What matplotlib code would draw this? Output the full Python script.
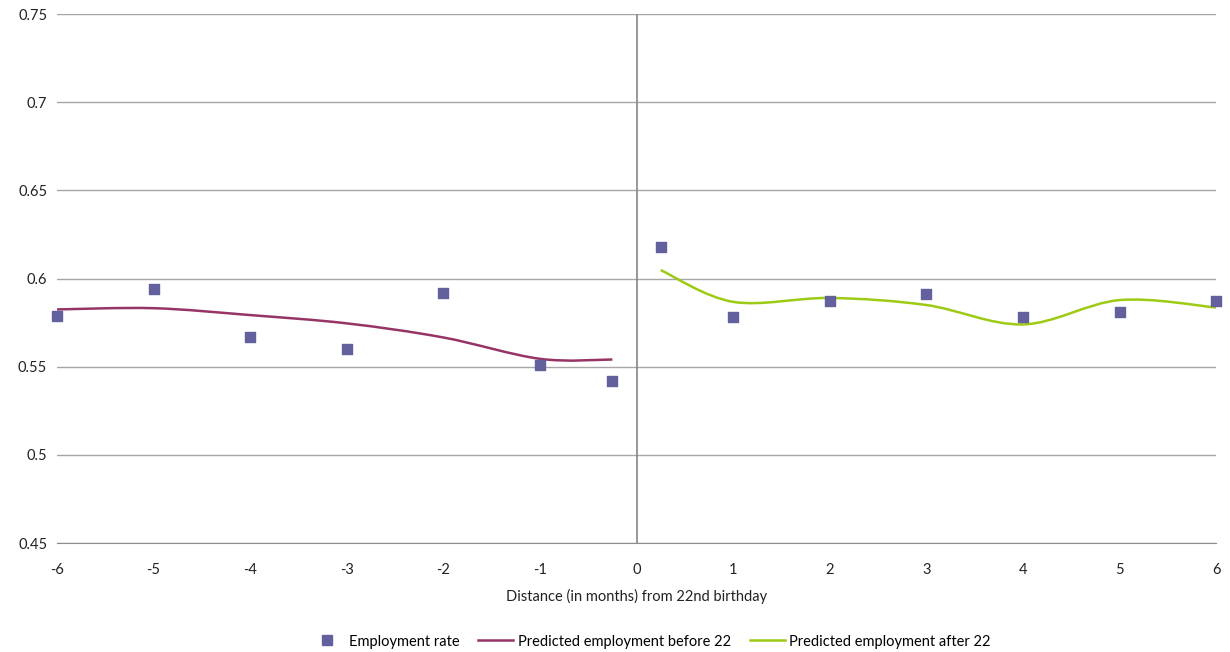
import numpy as np
import matplotlib.pyplot as plt
from matplotlib.path import Path
from matplotlib.patches import PathPatch
from matplotlib.lines import Line2D

plt.rcParams['font.family'] = ['Lato', 'DejaVu Sans']
plt.rcParams['axes.unicode_minus'] = False

# Observed employment rate by month distance from 22nd birthday
months = [-6, -5, -4, -3, -2, -1, -0.25, 0.25, 1, 2, 3, 4, 5, 6]
employment = [0.579, 0.594, 0.567, 0.560, 0.592, 0.551, 0.542,
              0.618, 0.578, 0.587, 0.591, 0.578, 0.581, 0.587]

# Predicted values (smoothed lines)
before_x = [-6, -5, -4, -3, -2, -1, -0.25]
before_y = [0.5825, 0.5832, 0.5793, 0.5746, 0.5666, 0.5545, 0.5541]
after_x = [0.25, 1, 2, 3, 4, 5, 6]
after_y = [0.6048, 0.5868, 0.589, 0.585, 0.574, 0.5878, 0.5836]

c_points = '#63609E'
c_before = '#973466'
c_after = '#9DCB14'


def smooth_path(xs, ys):
    # Excel-style smoothed line: cubic Bezier with Catmull-Rom control points
    p = np.column_stack([xs, ys])
    n = len(p)
    verts = [p[0]]
    codes = [Path.MOVETO]
    for i in range(n - 1):
        p0 = p[max(i - 1, 0)]
        p1 = p[i]
        p2 = p[i + 1]
        p3 = p[min(i + 2, n - 1)]
        verts += [p1 + (p2 - p0) / 6, p2 - (p3 - p1) / 6, p2]
        codes += [Path.CURVE4] * 3
    return Path(verts, codes)


fig, ax = plt.subplots(figsize=(12.3, 6.52), dpi=100)
fig.subplots_adjust(left=0.0463, right=0.9887, top=0.9785, bottom=0.167)

ax.set_xlim(-6, 6)
ax.set_ylim(0.45, 0.75)
ax.set_yticks(np.arange(0.45, 0.751, 0.05))
ax.set_yticklabels(['0.45', '0.5', '0.55', '0.6', '0.65', '0.7', '0.75'])
ax.set_xticks(range(-6, 7))
ax.set_xticklabels([str(m) for m in range(-6, 7)])
ax.grid(axis='y', color='#A6A6A6', linewidth=1)
ax.set_axisbelow(True)
for s in ['top', 'right', 'left']:
    ax.spines[s].set_visible(False)
ax.spines['bottom'].set_color('#8C8C8C')
ax.axvline(0, color='#868686', linewidth=1.2, zorder=1)
ax.tick_params(length=0, labelsize=10.5, colors='#222222')
ax.tick_params(axis='x', pad=14)
ax.tick_params(axis='y', pad=7)

ax.add_patch(PathPatch(smooth_path(before_x, before_y), facecolor='none',
                       edgecolor=c_before, linewidth=1.8, zorder=3))
ax.add_patch(PathPatch(smooth_path(after_x, after_y), facecolor='none',
                       edgecolor=c_after, linewidth=1.8, zorder=3))
ax.scatter(months, employment, marker='s', s=48, color=c_points, zorder=4,
           clip_on=False)

ax.set_xlabel('Distance (in months) from 22nd birthday', fontsize=10.5,
              color='#222222', labelpad=9)

handles = [
    Line2D([], [], marker='s', linestyle='none', color=c_points, markersize=6.5),
    Line2D([], [], color=c_before, linewidth=1.8),
    Line2D([], [], color=c_after, linewidth=1.8),
]
labels = ['Employment rate', 'Predicted employment before 22',
          'Predicted employment after 22']
fig.legend(handles, labels, loc='center', bbox_to_anchor=(0.5285, 0.016),
           ncol=3, frameon=False, fontsize=10.5, handlelength=2.4,
           columnspacing=1.3, handletextpad=0.3)

plt.savefig('out.png', dpi=100)
